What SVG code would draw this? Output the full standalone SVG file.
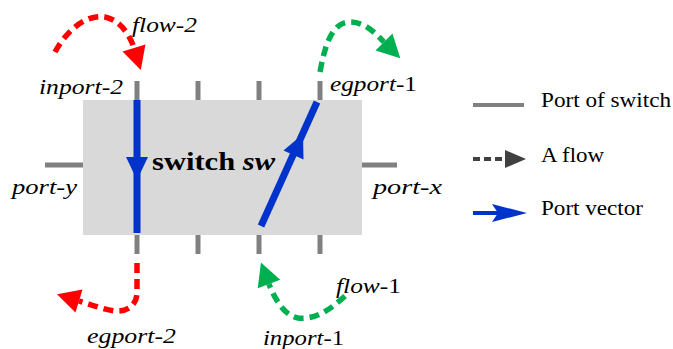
<svg xmlns="http://www.w3.org/2000/svg" width="673" height="349" viewBox="0 0 673 349">
<style>
.port{stroke:#808080;stroke-width:5;fill:none}
.lbl{font-family:'Liberation Serif','Times New Roman',serif;font-size:21px;fill:#000}
.ttl{font-family:'Liberation Serif','Times New Roman',serif;font-size:25px;font-weight:bold;fill:#000}
.it{font-style:italic}
.leg{font-family:'Liberation Serif','Times New Roman',serif;font-size:20px;fill:#000}
.flow{fill:none;stroke-width:5.5;stroke-dasharray:10 6}
.red{stroke:#ff0000}
.green{stroke:#00b050}
.vec{stroke:#0033cc;stroke-width:7;fill:none}
</style>
<defs>
<marker id="hr" markerUnits="userSpaceOnUse" markerWidth="26" markerHeight="28" refX="0" refY="12" orient="auto" overflow="visible">
<path d="M0,0 L23,12 L0,24 z" fill="#ff0000"/>
</marker>
<marker id="hg" markerUnits="userSpaceOnUse" markerWidth="26" markerHeight="28" refX="0" refY="12" orient="auto" overflow="visible">
<path d="M0,0 L23,12 L0,24 z" fill="#00b050"/>
</marker>
</defs>
<g id="switch">
<rect x="83" y="100" width="279" height="135" fill="#d9d9d9"/>
<text class="ttl" x="152" y="170" textLength="123" lengthAdjust="spacingAndGlyphs">switch <tspan class="it">sw</tspan></text>
</g>
<g id="ports">
<line class="port" x1="137" y1="81" x2="137" y2="100"/>
<line class="port" x1="198" y1="81" x2="198" y2="100"/>
<line class="port" x1="259" y1="81" x2="259" y2="100"/>
<line class="port" x1="320" y1="81" x2="320" y2="100"/>
<line class="port" x1="137" y1="235" x2="137" y2="254"/>
<line class="port" x1="198" y1="235" x2="198" y2="254"/>
<line class="port" x1="259" y1="235" x2="259" y2="254"/>
<line class="port" x1="320" y1="235" x2="320" y2="254"/>
<line class="port" x1="45" y1="165" x2="83" y2="165"/>
<line class="port" x1="362" y1="165" x2="397" y2="165"/>
</g>
<g id="port-vectors">
<line class="vec" x1="137" y1="100" x2="137" y2="233"/>
<polygon points="126,157 148,157 137,180" fill="#0033cc"/>
<line class="vec" x1="261" y1="226" x2="317" y2="102"/>
<polygon points="303,134 303.5,159.5 283.5,150.5" fill="#0033cc"/>
</g>
<g id="connectors">
<path class="flow red" d="M55,52 C68,28 88,14 105,17 C120,20 130,35 134,48" marker-end="url(#hr)"/>
<path class="flow green" d="M320,72 C325,45 332,22 350,22 C365,22 375,33 384,42" marker-end="url(#hg)"/>
<path class="flow red" d="M137,263 L137,292 C137,305 128,312 115,311 C105,310 92,305 79,301" marker-end="url(#hr)"/>
<path class="flow green" d="M345,296 C330,310 315,320 298,318 C285,316 275,300 269,284" marker-end="url(#hg)"/>
</g>
<g id="labels">
<text class="lbl it" x="132" y="32" textLength="65" lengthAdjust="spacingAndGlyphs">flow-2</text>
<text class="lbl it" x="39" y="94" textLength="84" lengthAdjust="spacingAndGlyphs">inport-2</text>
<text class="lbl" x="330" y="91" textLength="87" lengthAdjust="spacingAndGlyphs"><tspan class="it">egport</tspan>-1</text>
<text class="lbl it" x="12" y="194" textLength="65" lengthAdjust="spacingAndGlyphs">port-y</text>
<text class="lbl it" x="373" y="194" textLength="69" lengthAdjust="spacingAndGlyphs">port-x</text>
<text class="lbl it" x="87" y="343" textLength="89" lengthAdjust="spacingAndGlyphs">egport-2</text>
<text class="lbl" x="263" y="345" textLength="81" lengthAdjust="spacingAndGlyphs"><tspan class="it">inport</tspan>-1</text>
<text class="lbl" x="336" y="293" textLength="65" lengthAdjust="spacingAndGlyphs"><tspan class="it">flow</tspan>-1</text>
</g>
<g id="legend">
<line x1="473" y1="105" x2="524" y2="105" stroke="#808080" stroke-width="4"/>
<text class="leg" x="541" y="107" textLength="130" lengthAdjust="spacingAndGlyphs">Port of switch</text>
<line x1="473" y1="159" x2="506" y2="159" stroke="#404040" stroke-width="4" stroke-dasharray="7 4"/>
<polygon points="505,150 526,159 505,168" fill="#404040"/>
<text class="leg" x="541" y="162" textLength="63" lengthAdjust="spacingAndGlyphs">A flow</text>
<line x1="473" y1="213" x2="500" y2="213" stroke="#0033cc" stroke-width="4"/>
<polygon points="492,204 527,213 492,222 498,213" fill="#0033cc"/>
<text class="leg" x="541" y="215" textLength="102" lengthAdjust="spacingAndGlyphs">Port vector</text>
</g>
</svg>
